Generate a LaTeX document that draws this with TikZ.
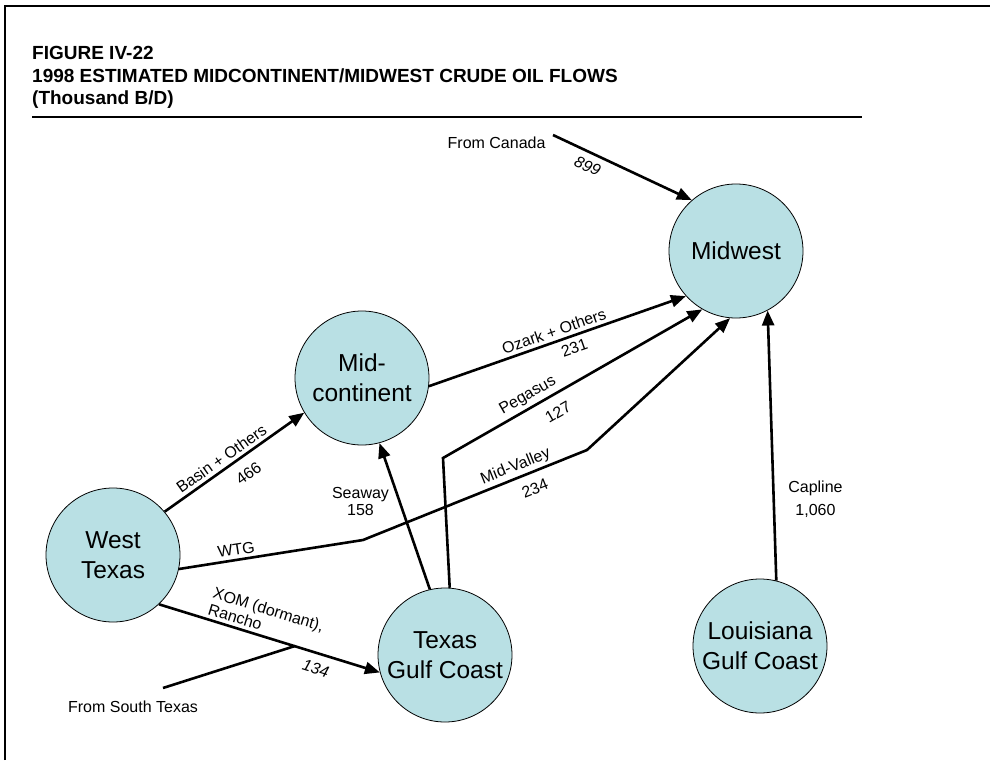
\documentclass[tikz,border=0pt]{standalone}
\usepackage{fontspec}
\setmainfont{Liberation Sans}
\usetikzlibrary{arrows.meta}
\definecolor{regionfill}{RGB}{185,224,228}
\tikzset{
  region/.style={circle, draw=black, line width=0.8pt, fill=regionfill, minimum size=134pt, inner sep=0pt, align=center, font=\fontsize{24.5}{30}\selectfont},
  flow/.style={line width=2.6pt, -{Triangle[length=15pt,width=12pt]}},
  pipe/.style={line width=2.6pt},
  lbl/.style={font=\fontsize{16}{17}\selectfont},
  lbli/.style={font=\fontsize{16}{17}\selectfont\itshape},
}

\begin{document}
\begin{tikzpicture}[x=1pt, y=-1pt]
    \useasboundingbox (0,0) rectangle (990,760);

    % Frame
    \draw[line width=2pt] (5,760) -- (5,6) -- (990,6);

    % Title
    \node[anchor=north west, inner sep=0pt, align=left, font=\fontsize{19}{22.5}\selectfont\bfseries] (title) at (32,46.5) {FIGURE IV-22\\1998 ESTIMATED MIDCONTINENT/MIDWEST CRUDE OIL FLOWS\\(Thousand B/D)};
    \draw[line width=2.5pt] (32,117) -- (862,117);

    % Regions
    \node[region] (midwest) at (736,251) {Midwest};
    \node[region] (midcont) at (362,378) {Mid-\\continent};
    \node[region] (westtx) at (113,555) {West\\Texas};
    \node[region] (txgulf) at (445,655) {Texas\\Gulf Coast};
    \node[region] (lagulf) at (760,646) {Louisiana\\Gulf Coast};

    % Outside sources
    \coordinate (canada) at (553,135);
    \coordinate (southtx) at (163,688);
    \coordinate (join) at (295,646);
    \node[lbl, anchor=east] (canadalbl) at (549,143) {From Canada};
    \node[lbl] (southtxlbl) at (133,707) {From South Texas};

    % Bends
    \coordinate (wtgbend) at (363,540);
    \coordinate (mvbend) at (587,450);
    \coordinate (pegbend) at (443,458);

    % Flows
    \draw[flow] (canada) -- node[lbli, sloped, below=3pt, pos=0.29] {899} (midwest.131);
    \draw[flow] (westtx.40) -- node[lbl, sloped, above, pos=0.45] {Basin + Others} node[lbl, sloped, below=7pt, pos=0.53] {466} (midcont.211);
    \draw[flow] (midcont.-7) -- node[lbl, sloped, above, pos=0.5] {Ozark + Others} node[lbl, sloped, below=2pt, pos=0.55] {231} (midwest.222);
    \draw[flow] (txgulf.86) -- (pegbend) -- node[lbl, sloped, above, pos=0.35] {Pegasus} node[lbl, sloped, below=7pt, pos=0.41] {127} (midwest.240);
    \draw[flow] (txgulf.103) -- node[lbl, left=6pt, align=center, pos=0.6] {Seaway\\158} (midcont.-75);
    \draw[flow] (westtx.-12) -- node[lbl, sloped, above, pos=0.32] {WTG} (wtgbend) -- node[lbl, sloped, above=-1pt, pos=0.7] {Mid-Valley} node[lbl, sloped, below=6pt, pos=0.74] {234} (mvbend) -- (midwest.265);
    \draw[flow] (westtx.-47) -- node[lbl, sloped, above, pos=0.46, align=left] {XOM (dormant),\\Rancho} node[lbli, sloped, below=5pt, pos=0.73] {134} (txgulf.195);
    \draw[pipe] (southtx) -- (join);
    \draw[flow] (lagulf.76) -- node[lbl, right=10pt, align=center, pos=0.3] {Capline\\[6pt]1,060} (midwest.298);
\end{tikzpicture}
\end{document}
